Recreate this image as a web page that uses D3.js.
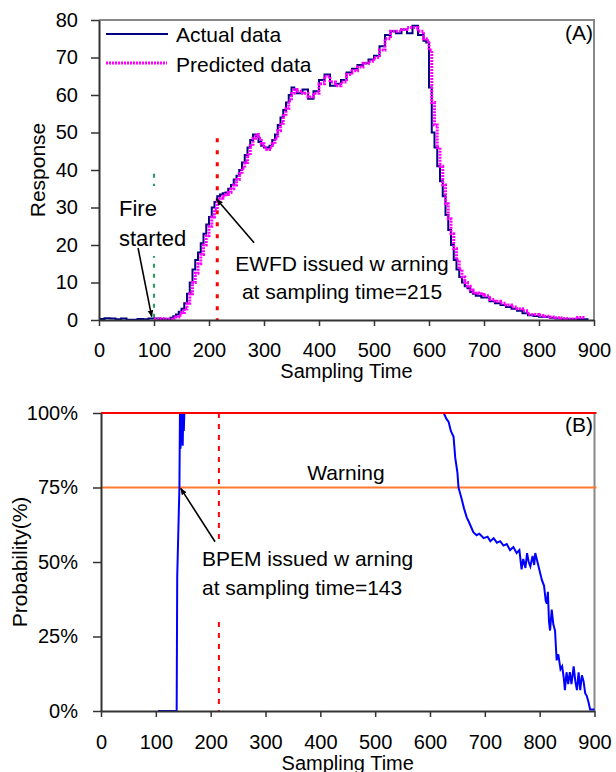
<!DOCTYPE html>
<html>
<head>
<meta charset="utf-8">
<script src="https://cdn.jsdelivr.net/npm/d3@7"></script>
<style>
body { margin: 0; background: #fff; }
text { font-family: "Liberation Sans", Arial, sans-serif; fill: #000; }
</style>
</head>
<body>
<div id="chart"></div>
<script>
// ---- panel A data: [sampling time, response] ----
var actualData = [[0,0.3],[10,0.5],[20,0.4],[30,0.2],[40,0.4],[50,0.1],[60,0.1],[70,0.3],[80,0.2],[90,0.4],
	[100,0.4],[110,0.3],[120,0.2],[130,0.6],[135,1],[140,1.5],[145,2.2],[150,3],[155,4.5],[160,7],
	[165,10],[170,13.5],[175,16],[180,18],[185,20.5],[190,23],[195,25.5],[200,27.5],[205,30],[210,31.5],
	[215,33],[220,33.5],[225,33.8],[230,34],[235,35],[240,36],[245,37.5],[250,38.5],[255,40],[260,42],
	[265,44],[270,46],[275,48],[280,49.5],[285,49],[290,47.5],[295,46.5],[300,46],[305,46],[310,46.5],
	[315,48],[320,49.5],[325,52],[330,54],[335,56],[340,58],[345,60],[350,62],[355,61.5],[360,60.5],
	[370,61.5],[380,59],[390,61],[400,64],[410,65.5],[420,62.5],[430,63],[440,64],[450,66],[460,67],
	[470,68],[480,68.5],[490,69.5],[500,70.5],[510,73],[520,76],[530,77],[540,76.5],[550,77.5],[560,76.5],
	[570,78.5],[580,76],[590,74.5],[595,74],[600,62],[605,50],[610,46],[615,41],[620,37],[625,33],
	[630,28],[635,24],[640,20],[645,16],[650,13.5],[655,11.5],[660,10],[665,9],[670,8.5],[675,7.5],
	[680,7],[685,6.5],[690,6.5],[695,6],[700,6],[710,5],[720,4.5],[730,4],[740,3.5],[750,3],
	[760,2.5],[770,1.8],[780,1.3],[790,1.1],[800,0.9],[810,0.8],[820,0.6],[830,0.4],[840,0.3],[850,0.2],
	[860,0.3],[870,0.3],[880,0.2],[890,0.2]]

var predictedData = [[100,0.3],[110,0.4],[120,0.3],[130,0.3],[135,0.5],[140,0.8],[145,1.3],[150,2],[155,3],[160,4.5],
	[165,7],[170,10],[175,12.5],[180,15],[185,17.5],[190,20],[195,22.5],[200,25],[205,27.5],[210,29.5],
	[215,31.5],[220,32.5],[225,33],[230,33.5],[235,34],[240,35],[245,36],[250,37.5],[255,39],[260,40.5],
	[265,42],[270,44],[275,46.5],[280,48.5],[285,49.5],[290,48.5],[295,47],[300,46],[305,45.5],[310,46],
	[315,47],[320,48.5],[325,50.5],[330,52.5],[335,54.5],[340,56.5],[345,58.5],[350,60.5],[355,61.5],[360,61],
	[370,60.5],[380,59.5],[390,60.5],[400,63],[410,65],[420,63.5],[430,62.5],[440,63.5],[450,65.5],[460,66.5],
	[470,67.5],[480,68.5],[490,69],[500,70],[510,72],[520,75],[530,77],[540,77],[550,77.5],[560,78],
	[570,78],[580,77],[590,75],[595,74.5],[600,72],[605,58],[610,52],[615,46],[620,41],[625,36],
	[630,31],[635,27],[640,23],[645,19],[650,16],[655,13.5],[660,11.5],[665,10],[670,9],[675,8],
	[680,7.5],[685,7.2],[690,7],[695,6.8],[700,6.5],[710,5.5],[720,5],[730,4.5],[740,4],[750,3.5],
	[760,3],[770,2.5],[780,1.5],[790,1.5],[800,1.2],[810,1],[820,0.8],[830,0.6],[840,0.4],[850,0.3],
	[860,0.3],[870,0.7],[880,0.3]]

var xTicks = [0,100,200,300,400,500,600,700,800,900]
var responseTicks = [0,10,20,30,40,50,60,70,80]

var fireTime = 100
var ewfdTime = 215

// ---- panel B data: [sampling time, probability %] ----
var probData = [[104,0],[138,0],[139,45],[143,75],[144,100],[145,88],[146,100],[147,90],[148,100],[149,89],
	[150,100],[151,94],[152,100],[625,100],[630,98],[634,97],[638,94],[643,92],[646,85],[650,80],
	[652,75],[655,73],[658,71],[662,68],[667,65],[672,63],[679,60],[685,59],[690,59.5],[698,58],
	[705,58.5],[710,57],[716,58],[722,56.5],[728,57],[734,55.5],[740,56],[746,54],[752,55],[758,53],
	[763,54],[767,47.5],[770,51],[774,48],[777,53],[780,50],[783,48.5],[787,52],[790,49],[792,53],
	[796,50],[800,47],[804,44],[808,42],[811,37],[813,36],[815,40],[817,30],[819,27],[822,34],
	[825,29],[828,27],[831,17],[834,19],[838,14],[841,15],[844,11],[846,7],[849,13],[852,9],
	[855,13],[858,9],[862,15],[865,10],[868,7],[871,13],[874,7],[877,12],[880,10],[883,6],
	[886,5],[889,3],[892,0.5],[900,0.5]]
var probTicks = [0,0.25,0.5,0.75,1]
var warningLevel = 0.75
var certainLevel = 1
var bpemTime = 215

var width = 616, height = 772
var svg = d3.select("#chart").append("svg")
	.attr("width", width)
	.attr("height", height)

var markerDefs = svg.append("defs")
markerDefs.append("marker")
	.attr("id", "arrow")
	.attr("viewBox", "0 0 10 10")
	.attr("refX", 9).attr("refY", 5)
	.attr("markerWidth", 7).attr("markerHeight", 7)
	.attr("markerUnits", "userSpaceOnUse")
	.attr("orient", "auto")
	.append("path")
	.attr("d", "M0,1 L10,5 L0,9 z")
	.attr("fill", "#000")

function styleAxis(g) {
	g.selectAll("text").style("font-size", "20px").style("font-family", "'Liberation Sans', Arial, sans-serif")
	g.select(".domain").attr("stroke", "#333").attr("stroke-width", 2)
	g.selectAll(".tick line").attr("stroke", "#333").attr("stroke-width", 1.5)
}

// ================= Panel A =================
var xA = d3.scaleLinear().domain([0, 900]).range([99, 594])
var yA = d3.scaleLinear().domain([0, 80]).range([320, 20])

// frame (top + right)
svg.append("path")
	.attr("d", "M" + xA(0) + "," + yA(80) + "H" + xA(900) + "V" + yA(0))
	.attr("fill", "none").attr("stroke", "#888").attr("stroke-width", 2)

// fire started marker line
svg.append("line")
	.attr("x1", xA(fireTime)).attr("x2", xA(fireTime))
	.attr("y1", yA(39)).attr("y2", yA(0))
	.attr("stroke", "#339966").attr("stroke-width", 2.2)
	.attr("stroke-dasharray", "4,6")

// EWFD warning line
svg.append("line")
	.attr("x1", xA(ewfdTime)).attr("x2", xA(ewfdTime))
	.attr("y1", yA(48.5)).attr("y2", yA(0))
	.attr("stroke", "#ff0000").attr("stroke-width", 3)
	.attr("stroke-dasharray", "4,8")

var lineA = d3.line()
	.x(function(d) { return xA(d[0]) })
	.y(function(d) { return yA(d[1]) })
	.curve(d3.curveStepAfter)

svg.append("path")
	.datum(actualData)
	.attr("d", lineA)
	.attr("fill", "none").attr("stroke", "#000080").attr("stroke-width", 2)

svg.append("path")
	.datum(predictedData)
	.attr("d", lineA)
	.attr("fill", "none").attr("stroke", "#ff00ff").attr("stroke-width", 3)
	.attr("stroke-dasharray", "2,1")

svg.append("g")
	.attr("transform", "translate(0," + yA(0) + ")")
	.call(d3.axisBottom(xA).tickValues(xTicks).tickSize(6).tickSizeOuter(0).tickPadding(17))
	.call(styleAxis)

svg.append("g")
	.attr("transform", "translate(" + xA(0) + ",0)")
	.call(d3.axisLeft(yA).tickValues(responseTicks).tickSize(8).tickSizeOuter(0).tickPadding(13))
	.call(styleAxis)

// legend
svg.append("line").attr("x1", 106).attr("x2", 168).attr("y1", 34).attr("y2", 34)
	.attr("stroke", "#000080").attr("stroke-width", 2)
svg.append("line").attr("x1", 106).attr("x2", 167).attr("y1", 63).attr("y2", 63)
	.attr("stroke", "#ff00ff").attr("stroke-width", 3).attr("stroke-dasharray", "2,1")
svg.append("text").attr("x", 176).attr("y", 42).style("font-size", "21px").text("Actual data")
svg.append("text").attr("x", 176).attr("y", 72).style("font-size", "21px").text("Predicted data")

svg.append("text").attr("x", 593).attr("y", 40).attr("text-anchor", "end")
	.style("font-size", "21px").text("(A)")

// annotations
svg.append("rect").attr("x", 114).attr("y", 186).attr("width", 78).attr("height", 70).attr("fill", "#fff")
svg.append("text").attr("x", 119).attr("y", 216).style("font-size", "22px").text("Fire")
svg.append("text").attr("x", 119).attr("y", 246).style("font-size", "22px").text("started")
svg.append("line")
	.attr("x1", xA(71)).attr("y1", yA(19.2))
	.attr("x2", xA(95.8)).attr("y2", yA(0.9))
	.attr("stroke", "#000").attr("stroke-width", 1.6)
	.attr("marker-end", "url(#arrow)")

svg.append("text").attr("x", 342).attr("y", 271).attr("text-anchor", "middle")
	.style("font-size", "21px").text("EWFD issued w arning")
svg.append("text").attr("x", 342).attr("y", 299).attr("text-anchor", "middle")
	.style("font-size", "21px").text("at sampling time=215")
svg.append("line")
	.attr("x1", xA(282)).attr("y1", yA(20.6))
	.attr("x2", xA(214)).attr("y2", yA(32.2))
	.attr("stroke", "#000").attr("stroke-width", 1.6)
	.attr("marker-end", "url(#arrow)")

svg.append("text")
	.attr("transform", "translate(45," + ((yA(0) + yA(80)) / 2) + ") rotate(-90)")
	.attr("text-anchor", "middle").style("font-size", "21px").text("Response")
svg.append("text").attr("x", (xA(0) + xA(900)) / 2).attr("y", 378)
	.attr("text-anchor", "middle").style("font-size", "20px").text("Sampling Time")

// ================= Panel B =================
var xB = d3.scaleLinear().domain([0, 900]).range([101, 594.5])
var yB = d3.scaleLinear().domain([0, 1]).range([711, 413])

svg.append("line")
	.attr("x1", xB(900)).attr("x2", xB(900)).attr("y1", yB(1)).attr("y2", yB(0))
	.attr("stroke", "#888").attr("stroke-width", 2)

svg.append("line")
	.attr("x1", xB(bpemTime)).attr("x2", xB(bpemTime))
	.attr("y1", yB(1)).attr("y2", yB(0))
	.attr("stroke", "#ff0000").attr("stroke-width", 2)
	.attr("stroke-dasharray", "5,6")

svg.append("line")
	.attr("x1", xB(0)).attr("x2", xB(900) + 2)
	.attr("y1", yB(warningLevel)).attr("y2", yB(warningLevel))
	.attr("stroke", "#ff7a2e").attr("stroke-width", 2)

var lineB = d3.line()
	.x(function(d) { return xB(d[0]) })
	.y(function(d) { return yB(d[1] / 100) })

svg.append("path")
	.datum(probData)
	.attr("d", lineB)
	.attr("fill", "none").attr("stroke", "#0000ff").attr("stroke-width", 2)

svg.append("line")
	.attr("x1", xB(0)).attr("x2", xB(900) + 2)
	.attr("y1", yB(certainLevel)).attr("y2", yB(certainLevel))
	.attr("stroke", "#ff0000").attr("stroke-width", 2.2)

svg.append("g")
	.attr("transform", "translate(0," + yB(0) + ")")
	.call(d3.axisBottom(xB).tickValues(xTicks).tickSize(6).tickSizeOuter(0).tickPadding(18))
	.call(styleAxis)

svg.append("g")
	.attr("transform", "translate(" + xB(0) + ",0)")
	.call(d3.axisLeft(yB).tickValues(probTicks).tickFormat(d3.format(".0%")).tickSize(8).tickSizeOuter(0).tickPadding(15))
	.call(styleAxis)

svg.append("text").attr("x", 593).attr("y", 432).attr("text-anchor", "end")
	.style("font-size", "21px").text("(B)")
svg.append("text").attr("x", 346).attr("y", 480).attr("text-anchor", "middle")
	.style("font-size", "21px").text("Warning")

svg.append("rect").attr("x", 198).attr("y", 542).attr("width", 217).attr("height", 74).attr("fill", "#fff")
svg.append("text").attr("x", 202).attr("y", 566).style("font-size", "21px").text("BPEM issued w arning")
svg.append("text").attr("x", 202).attr("y", 595).style("font-size", "21px").text("at sampling time=143")
svg.append("line")
	.attr("x1", xB(208)).attr("y1", yB(0.568))
	.attr("x2", xB(145.4)).attr("y2", yB(0.747))
	.attr("stroke", "#000").attr("stroke-width", 1.6)
	.attr("marker-end", "url(#arrow)")

svg.append("text")
	.attr("transform", "translate(27," + ((yB(0) + yB(1)) / 2) + ") rotate(-90)")
	.attr("text-anchor", "middle").style("font-size", "21px").text("Probability(%)")
svg.append("text").attr("x", (xB(0) + xB(900)) / 2).attr("y", 770)
	.attr("text-anchor", "middle").style("font-size", "20px").text("Sampling Time")
</script>
</body>
</html>
